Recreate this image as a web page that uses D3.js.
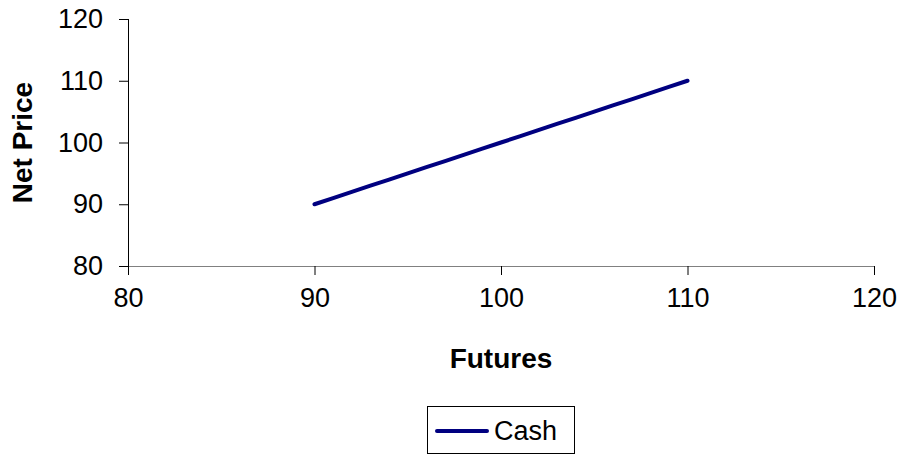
<!DOCTYPE html>
<html>
<head>
<meta charset="utf-8">
<script src="https://cdn.jsdelivr.net/npm/d3@7"></script>
<style>
  html, body { margin: 0; padding: 0; background: #fff; }
  svg { display: block; font-family: "Liberation Sans", Arial, sans-serif; }
</style>
</head>
<body>
<svg id="chart" width="905" height="456"></svg>
<script>
// Futures price vs. net price (hedged cash position)
const futures = [90, 91, 92, 93, 94, 95, 96, 97, 98, 99, 100, 101, 102, 103, 104, 105, 106, 107, 108, 109, 110];
const netPrice = [90, 91, 92, 93, 94, 95, 96, 97, 98, 99, 100, 101, 102, 103, 104, 105, 106, 107, 108, 109, 110];
const xTicks = [80, 90, 100, 110, 120];
const yTicks = [80, 90, 100, 110, 120];
const seriesName = "Cash";

const svg = d3.select("#chart");
const x = d3.scaleLinear().domain([80, 120]).range([128, 874]);
const y = d3.scaleLinear().domain([80, 120]).range([266, 19]);

// x axis
const xAxis = svg.append("g")
  .attr("transform", `translate(0,${y(80)})`)
  .call(d3.axisBottom(x).tickValues(xTicks).tickSize(9).tickPadding(13).tickFormat(d3.format("d")));
xAxis.select(".domain").attr("stroke", "#808080").attr("d", `M${x(80)},0.5H${x(120)}`);
xAxis.selectAll(".tick line").attr("stroke", "#000");
xAxis.selectAll(".tick text").attr("font-size", 27).attr("fill", "#000");

// y axis
const yAxis = svg.append("g")
  .attr("transform", `translate(${x(80)},0)`)
  .call(d3.axisLeft(y).tickValues(yTicks).tickSize(9).tickPadding(16).tickFormat(d3.format("d")));
yAxis.select(".domain").attr("stroke", "#000").attr("d", `M0.5,${y(120)}V${y(80) + 9}`);
yAxis.selectAll(".tick line").attr("stroke", "#000");
yAxis.selectAll(".tick text").attr("font-size", 27).attr("fill", "#000");

// series line
const line = d3.line().x((d, i) => x(futures[i])).y(d => y(d));
svg.append("path")
  .datum(netPrice)
  .attr("d", line)
  .attr("fill", "none")
  .attr("stroke", "#000080")
  .attr("stroke-width", 4)
  .attr("stroke-linecap", "round")
  .attr("stroke-linejoin", "round");

// axis titles
svg.append("text")
  .attr("x", x(100)).attr("y", 368)
  .attr("text-anchor", "middle")
  .attr("font-size", 28).attr("font-weight", "bold")
  .text("Futures");

svg.append("text")
  .attr("transform", `translate(32,${y(100)}) rotate(-90)`)
  .attr("text-anchor", "middle")
  .attr("font-size", 28).attr("font-weight", "bold")
  .text("Net Price");

// legend
const legend = svg.append("g");
legend.append("rect")
  .attr("x", 427.5).attr("y", 406.5).attr("width", 147).attr("height", 47)
  .attr("fill", "#fff").attr("stroke", "#000").attr("stroke-width", 1);
legend.append("line")
  .attr("x1", 437).attr("x2", 487).attr("y1", 431).attr("y2", 431)
  .attr("stroke", "#000080").attr("stroke-width", 4).attr("stroke-linecap", "round");
legend.append("text")
  .attr("x", 494).attr("y", 440)
  .attr("font-size", 27)
  .text(seriesName);
</script>
</body>
</html>
